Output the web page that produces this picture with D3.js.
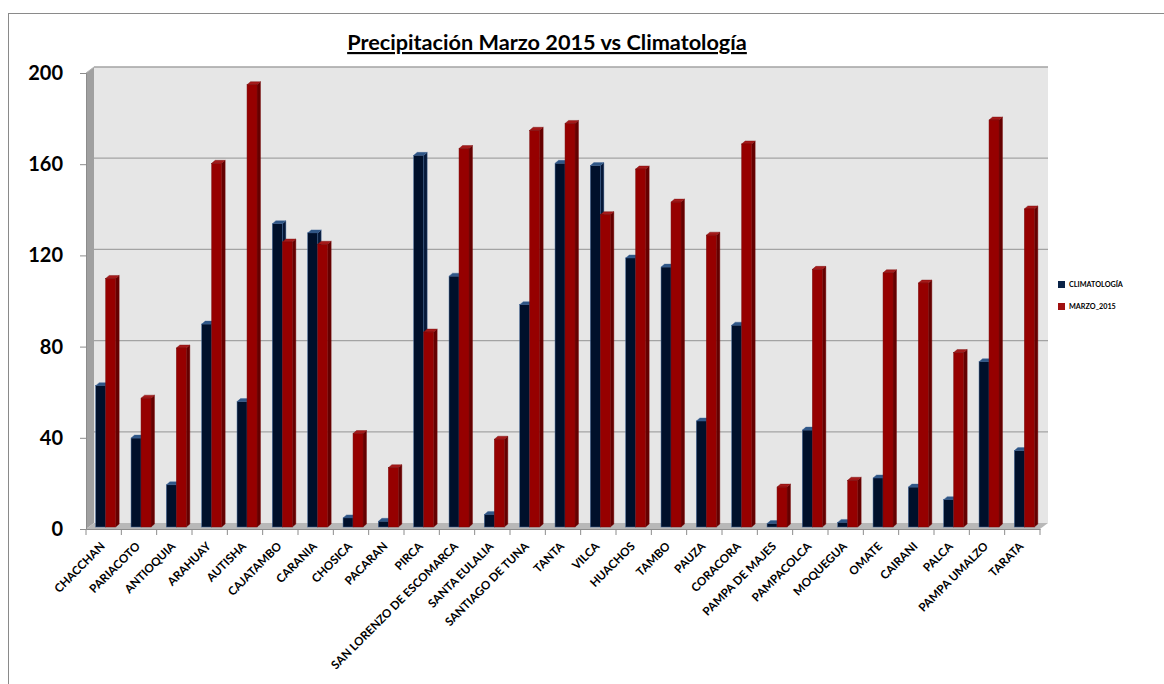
<!DOCTYPE html>
<html><head><meta charset="utf-8">
<script src="https://cdn.jsdelivr.net/npm/d3@7"></script>
<style>
body{margin:0;background:#fff}
svg{display:block}
text{font-family:Lato,"Open Sans",sans-serif;font-weight:bold;fill:#000}
</style>
</head><body>
<svg id="c" width="1164" height="684"></svg>
<script>
const categories = ["CHACCHAN","PARIACOTO","ANTIOQUIA","ARAHUAY","AUTISHA","CAJATAMBO","CARANIA","CHOSICA","PACARAN","PIRCA","SAN LORENZO DE ESCOMARCA","SANTA EULALIA","SANTIAGO DE TUNA","TANTA","VILCA","HUACHOS","TAMBO","PAUZA","CORACORA","PAMPA DE MAJES","PAMPACOLCA","MOQUEGUA","OMATE","CAIRANI","PALCA","PAMPA UMALZO","TARATA"];
const climatologia = [62, 39, 18.5, 89, 55, 133, 129, 4, 2.5, 163, 110, 5.5, 97.5, 159.5, 158.5, 118, 114, 46.5, 88.5, 1.5, 42.5, 2, 21.5, 17.5, 12, 72.5, 33.5];
const marzo2015 = [109, 56.5, 78.5, 159.5, 194, 125, 124, 41, 26, 85.5, 166, 38.5, 174, 177, 137, 157, 142.5, 128, 168, 17.5, 113, 20.5, 111.5, 107, 76.5, 178.5, 139.5];
const seriesNames = ["CLIMATOLOGÍA","MARZO_2015"];
const yTickValues = [0, 40, 80, 120, 160, 200];
const titleText = "Precipitación Marzo 2015 vs Climatología";

const svg = d3.select("#c");
const plot = {left:86, right:1040, bottom:529, top:73};
const depth = {dx:8, dy:-6};
const bd = {dx:3.5, dy:-3};

const x = d3.scaleBand().domain(categories).range([plot.left, plot.right]);
const bw = x.bandwidth();
const xs = d3.scaleBand().domain(seriesNames).range([bw*0.275, bw*0.84]);
const y = d3.scaleLinear().domain([0, 200]).range([plot.bottom, plot.top]);
const yBar = d3.scaleLinear().domain([0, 200]).range([plot.bottom-2, plot.top-2]);

const colors = {
  "CLIMATOLOGÍA": {front:"#00102b", top:"#2f5686", side:"#061838", stroke:"#3d6294", legend:"#0b2448"},
  "MARZO_2015": {front:"#960000", top:"#a51a1a", side:"#650000", stroke:"#7a0a0a", legend:"#a01010"}
};

function fitFont(sel, refNode, targetLen, baseSize){
  const len = refNode.getComputedTextLength();
  const size = len > 0 ? baseSize * targetLen / len : baseSize;
  sel.attr("font-size", size);
  return len;
}

// outer border
svg.append("rect").attr("x",8.5).attr("y",13.5).attr("width",1200).attr("height",700)
  .attr("fill","none").attr("stroke","#8a8a8a");

// title
const title = svg.append("text").attr("x",547).attr("y",50).attr("text-anchor","middle")
  .attr("font-size",20).style("text-decoration","underline").text(titleText);
fitFont(title, title.node(), 400, 20);

// walls and floor
const x0 = plot.left, x1 = plot.right;
svg.append("rect").attr("x",x0+depth.dx).attr("y",y(200)+depth.dy)
  .attr("width",x1-x0).attr("height",y(0)-y(200)).attr("fill","#e6e6e6");
svg.append("polygon").attr("points",[[x0,y(200)],[x0+depth.dx,y(200)+depth.dy],[x0+depth.dx,y(0)+depth.dy],[x0,y(0)]].join(" "))
  .attr("fill","#a0a0a0");
svg.append("polygon").attr("points",[[x0,y(0)],[x1,y(0)],[x1+depth.dx,y(0)+depth.dy],[x0+depth.dx,y(0)+depth.dy]].join(" "))
  .attr("fill","#b8b8b8");
svg.append("g").selectAll("line").data(yTickValues.filter(v=>v>0)).join("line")
  .attr("x1",x0+depth.dx).attr("x2",x1+depth.dx)
  .attr("y1",d=>y(d)+depth.dy).attr("y2",d=>y(d)+depth.dy)
  .attr("stroke","#a3a3a3").attr("stroke-width",1.3);
svg.append("line").attr("x1",x0).attr("y1",y(200)).attr("x2",x0+depth.dx).attr("y2",y(200)+depth.dy)
  .attr("stroke","#b5b5b5");

// bars
const gBars = svg.append("g");
categories.forEach((c,i)=>{
  [[seriesNames[0],climatologia[i]],[seriesNames[1],marzo2015[i]]].forEach(([s,v])=>{
    const col = colors[s];
    const bx0 = x(c)+xs(s), bx1 = bx0+xs.bandwidth();
    const yt = yBar(v), yb = yBar(0);
    const g = gBars.append("g");
    g.append("polygon").attr("points",[[bx1,yt],[bx1+bd.dx,yt+bd.dy],[bx1+bd.dx,yb+bd.dy],[bx1,yb]].join(" "))
      .attr("fill",col.side).attr("stroke",col.stroke).attr("stroke-width",0.4);
    g.append("polygon").attr("points",[[bx0,yt],[bx1,yt],[bx1+bd.dx,yt+bd.dy],[bx0+bd.dx,yt+bd.dy]].join(" "))
      .attr("fill",col.top).attr("stroke",col.stroke).attr("stroke-width",0.4);
    g.append("rect").attr("x",bx0).attr("y",yt).attr("width",bx1-bx0).attr("height",yb-yt)
      .attr("fill",col.front).attr("stroke",col.stroke).attr("stroke-width",0.5);
  });
});

// y axis
const yAxis = svg.append("g").attr("transform",`translate(${plot.left},0)`)
  .call(d3.axisLeft(y).tickValues(yTickValues).tickSize(6).tickPadding(17));
yAxis.select(".domain").attr("stroke","#8c8c8c");
yAxis.selectAll(".tick line").attr("stroke","#8c8c8c");
yAxis.selectAll(".tick text").attr("font-size",20).attr("font-family","Lato").attr("font-weight","bold").attr("fill","#000");

// x axis
const xAxis = svg.append("g").attr("transform",`translate(0,${plot.bottom})`)
  .call(d3.axisBottom(x).tickSize(0).tickPadding(0));
xAxis.select(".domain").attr("stroke","#8c8c8c");
const xt = xAxis.selectAll(".tick text").attr("font-size",12).attr("font-family","Lato").attr("font-weight","bold")
  .attr("fill","#000").attr("text-anchor","end").attr("dy",0).attr("y",0)
  .attr("transform","translate(2,18) rotate(-45)");
const longest = xt.filter(d=>d==="SAN LORENZO DE ESCOMARCA").node();
fitFont(xt, longest, 174, 12);
xAxis.append("g").selectAll("line").data(categories.map(c=>x(c)).concat([plot.right])).join("line")
  .attr("x1",d=>d).attr("x2",d=>d).attr("y1",0).attr("y2",6).attr("stroke","#8c8c8c");

// legend
const lg = svg.append("g").attr("transform","translate(1058,281)");
const lgTexts = [];
seriesNames.forEach((s,i)=>{
  lg.append("rect").attr("x",0).attr("y",i*22).attr("width",7).attr("height",7).attr("fill",colors[s].legend);
  lgTexts.push(lg.append("text").attr("x",11).attr("y",i*22+3.5).attr("dy","0.35em").attr("font-size",8).text(s).node());
});
fitFont(lg.selectAll("text"), lgTexts[0], 54, 8);
</script>
</body></html>
